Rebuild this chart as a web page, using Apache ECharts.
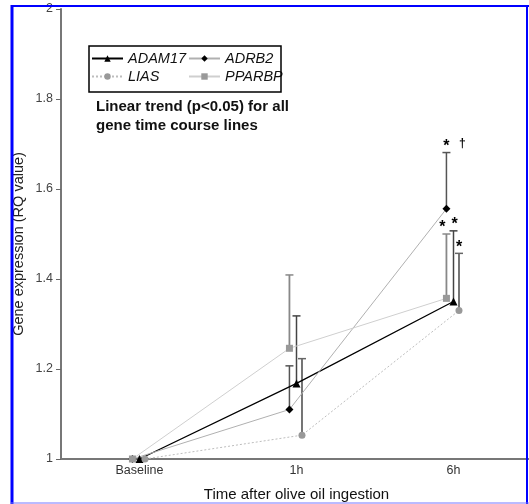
<!DOCTYPE html>
<html><head><meta charset="utf-8">
<script src="https://cdn.jsdelivr.net/npm/echarts@6/dist/echarts.min.js"></script>
<style>html,body{margin:0;padding:0;background:#fff}#c{width:529px;height:504px}</style>
</head><body><div id="c"></div>
<script>
// ---- data ----
const categories = ['Baseline', '1h', '6h'];
const adam17      = [1.000, 1.168, 1.350];
const adam17Upper = [1.000, 1.318, 1.507];
const adrb2       = [1.000, 1.110, 1.556];
const adrb2Upper  = [1.000, 1.207, 1.681];
const lias        = [1.000, 1.053, 1.330];
const liasUpper   = [1.000, 1.223, 1.457];
const pparbp      = [1.000, 1.246, 1.357];
const pparbpUpper = [1.000, 1.409, 1.500];
const adam17Marks = ['', '', '*'];
const adrb2Marks  = ['', '', '*'];
const adrb2Marks2 = ['', '', '\u2020'];
const liasMarks   = ['', '', '*'];
const pparbpMarks = ['', '', '*'];
const noteLines = ['Linear trend (p<0.05) for all', 'gene time course lines'];

// ---- styles ----
const FONT = 'Liberation Sans, Arial, sans-serif';
const defs = [
  {name:'ADAM17', v:adam17, up:adam17Upper, marks:adam17Marks, marks2:null, dx:0.0,
   line:'#000', lw:1.3, lt:'solid', sym:'triangle', ss:8, sc:'#000', ec:'#444', ew:1.5, mdx:1},
  {name:'ADRB2', v:adrb2, up:adrb2Upper, marks:adrb2Marks, marks2:adrb2Marks2, dx:-0.045,
   line:'#b0b0b0', lw:1, lt:'solid', sym:'diamond', ss:8, sc:'#000', ec:'#555', ew:1.5, mdx:0},
  {name:'LIAS', v:lias, up:liasUpper, marks:liasMarks, marks2:null, dx:0.035,
   line:'#bdbdbd', lw:1, lt:[2,2], sym:'circle', ss:7, sc:'#999', ec:'#666', ew:1.8, mdx:0},
  {name:'PPARBP', v:pparbp, up:pparbpUpper, marks:pparbpMarks, marks2:null, dx:-0.045,
   line:'#cfcfcf', lw:1, lt:'solid', sym:'rect', ss:7, sc:'#999', ec:'#888', ew:1.8, mdx:-4}
];

const series = [];
defs.forEach(d => {
  series.push({
    name: d.name + ' err', type: 'custom', xAxisIndex: 1, yAxisIndex: 0, z: 1,
    data: d.v.map((v, i) => [i + d.dx, v, d.up[i]]),
    renderItem: (params, api) => {
      const i = params.dataIndex;
      const x = api.value(0), v = api.value(1), t = api.value(2);
      const p0 = api.coord([x, v]), p1 = api.coord([x, t]);
      const ch = [];
      if (t > v) {
        ch.push({type:'line', shape:{x1:p0[0], y1:p0[1], x2:p1[0], y2:p1[1]}, style:{stroke:d.ec, lineWidth:d.ew}});
        ch.push({type:'line', shape:{x1:p1[0]-4, y1:p1[1], x2:p1[0]+4, y2:p1[1]}, style:{stroke:d.ec, lineWidth:1.5}});
      }
      if (d.marks[i]) ch.push({type:'text', x:p1[0]+d.mdx, y:p1[1]-6,
        style:{text:d.marks[i], fill:'#000', font:'bold 16px ' + FONT, align:'center', verticalAlign:'middle'}});
      if (d.marks2 && d.marks2[i]) ch.push({type:'text', x:p1[0]+16, y:p1[1]-9,
        style:{text:d.marks2[i], fill:'#000', font:'bold 12px ' + FONT, align:'center', verticalAlign:'middle'}});
      return {type:'group', children: ch};
    }
  });
  series.push({
    name: d.name, type: 'line', xAxisIndex: 1, yAxisIndex: 0, z: 3,
    data: d.v.map((v, i) => [i + d.dx, v]),
    symbol: d.sym, symbolSize: d.ss, showAllSymbol: true,
    itemStyle: {color: d.sc},
    lineStyle: {color: d.line, width: d.lw, type: d.lt},
    animation: false
  });
});

const legendBase = {
  orient: 'vertical', top: 51, itemGap: 3, itemWidth: 31, itemHeight: 8, padding: 0,
  selectedMode: false,
  textStyle: {fontStyle:'italic', fontSize:14.5, color:'#111', fontFamily:FONT}
};

const chart = echarts.init(document.getElementById('c'), null, {renderer:'canvas'});
chart.setOption({
  animation: false,
  backgroundColor: '#fff',
  grid: {left: 61, right: -3, top: 9, bottom: 45, containLabel: false, outerBoundsMode: 'none'},
  xAxis: [
    {type:'category', data: categories, boundaryGap: true,
     name: 'Time after olive oil ingestion', nameLocation: 'middle', nameGap: 28, nameMoveOverlap: false,
     nameTextStyle: {fontSize:15, color:'#111', fontFamily:FONT},
     axisLine: {lineStyle:{color:'#777', width:2}},
     axisTick: {length:4, lineStyle:{color:'#555'}},
     axisLabel: {fontSize:12.5, color:'#333', fontFamily:FONT, margin:5},
     splitLine: {show:false}},
    {type:'value', min:-0.5, max:2.5, show:false}
  ],
  yAxis: {
    type:'value', min:1, max:2, interval:0.2,
    name: 'Gene expression (RQ value)', nameLocation:'middle', nameGap: 35, nameMoveOverlap: false,
    nameTextStyle: {fontSize:14.5, color:'#222', fontFamily:FONT, padding:[0, 20, 0, 0]},
    axisLine: {show:true, onZero:false, lineStyle:{color:'#777', width:2}},
    axisTick: {show:true, length:5, lineStyle:{color:'#666'}},
    axisLabel: {fontSize:12.5, color:'#444', fontFamily:FONT, margin:8},
    splitLine: {show:false}
  },
  legend: [
    Object.assign({}, legendBase, {left: 91, data:['ADAM17','LIAS']}),
    Object.assign({}, legendBase, {left: 188, data:['ADRB2','PPARBP']})
  ],
  graphic: [
    {type:'rect', shape:{x:89, y:46, width:192, height:46}, style:{fill:'none', stroke:'#000', lineWidth:1.5}, z:10},
    {type:'text', x:96, y:107, style:{text:noteLines[0], font:'bold 15px ' + FONT, fill:'#111', verticalAlign:'middle'}, z:10},
    {type:'text', x:96, y:126, style:{text:noteLines[1], font:'bold 15px ' + FONT, fill:'#111', verticalAlign:'middle'}, z:10},
    {type:'line', shape:{x1:12, y1:5, x2:12, y2:504}, style:{stroke:'#0000ff', lineWidth:3}, z:20},
    {type:'line', shape:{x1:11, y1:6, x2:529, y2:6}, style:{stroke:'#0000ff', lineWidth:2}, z:20},
    {type:'line', shape:{x1:527, y1:5, x2:527, y2:504}, style:{stroke:'#0000ff', lineWidth:2}, z:20},
    {type:'line', shape:{x1:11, y1:503, x2:529, y2:503}, style:{stroke:'#7777ff', lineWidth:1}, z:20}
  ],
  series: series
});
</script></body></html>
